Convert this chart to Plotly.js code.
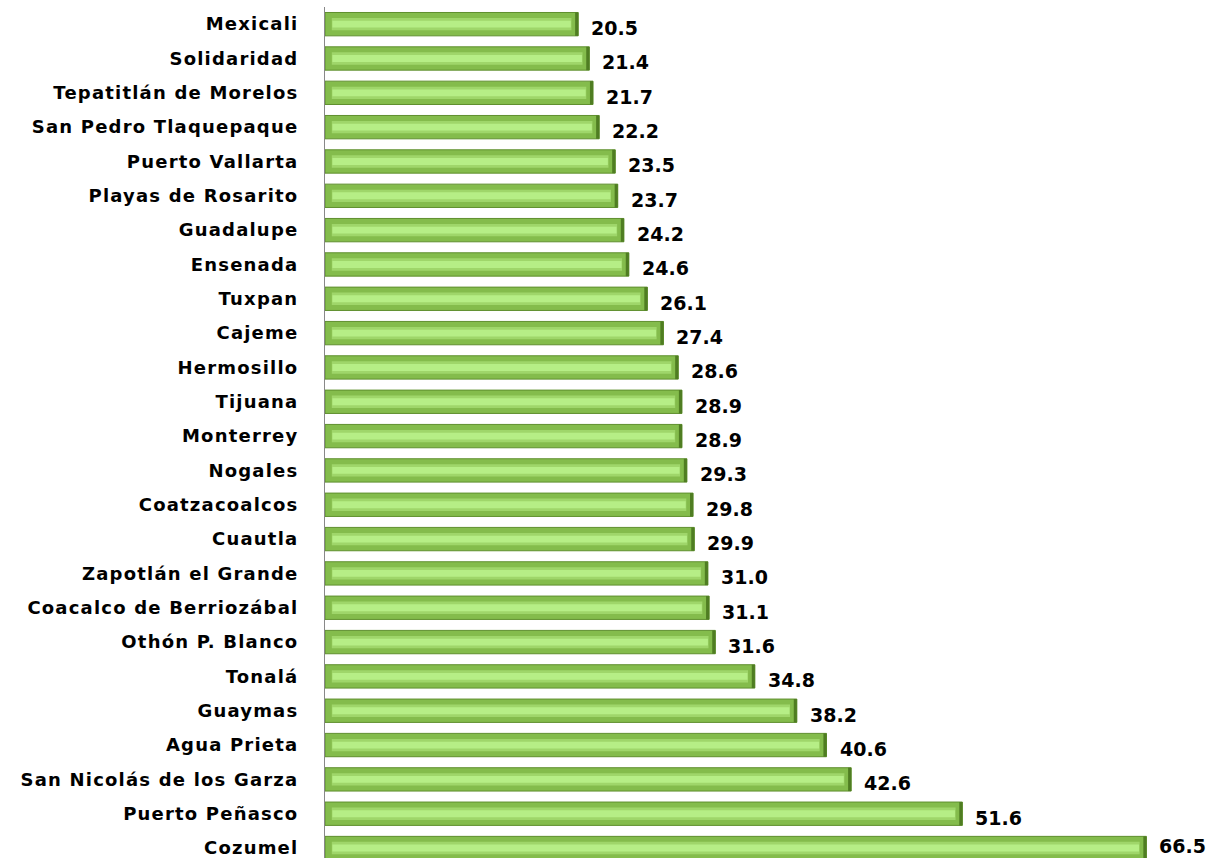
<!DOCTYPE html>
<html><head><meta charset="utf-8">
<script src="https://cdn.plot.ly/plotly-3.0.1.min.js"></script>
<style>html,body{margin:0;padding:0;background:#fff}
.ytick text{letter-spacing:1.2px}</style>
</head><body>
<div id="chart" style="width:1206px;height:858px"></div>
<script>
const municipios = ["Mexicali","Solidaridad","Tepatitlán de Morelos","San Pedro Tlaquepaque","Puerto Vallarta","Playas de Rosarito","Guadalupe","Ensenada","Tuxpan","Cajeme","Hermosillo","Tijuana","Monterrey","Nogales","Coatzacoalcos","Cuautla","Zapotlán el Grande","Coacalco de Berriozábal","Othón P. Blanco","Tonalá","Guaymas","Agua Prieta","San Nicolás de los Garza","Puerto Peñasco","Cozumel"];
const valores = [20.5,21.4,21.7,22.2,23.5,23.7,24.2,24.6,26.1,27.4,28.6,28.9,28.9,29.3,29.8,29.9,31.0,31.1,31.6,34.8,38.2,40.6,42.6,51.6,66.5];

const outer = {type:'bar', orientation:'h', y:municipios, x:valores, width:0.68,
  marker:{color:'#84bc4c', line:{color:'#5f8f2e', width:1}}, hoverinfo:'skip'};
const band = {type:'bar', orientation:'h', y:municipios, x:valores.map(v=>v-1.1), base:0.55, width:0.36,
  marker:{color:'#9fd66a', line:{width:0}}, hoverinfo:'skip'};
const inner = {type:'bar', orientation:'h', y:municipios, x:valores.map(v=>v-1.2), base:0.6, width:0.2,
  marker:{color:'#b6ee86', line:{width:0}}, hoverinfo:'skip'};
const edge = {type:'bar', orientation:'h', y:municipios, x:valores.map(()=>0.25), base:valores.map(v=>v-0.25), width:0.68,
  marker:{color:'#4f7d22', line:{width:0}}, hoverinfo:'skip'};

const last = municipios.length - 1;
const annotations = municipios.map((m,i)=>({x:valores[i], y:m, xref:'x', yref:'y',
  text:valores[i].toFixed(1), showarrow:false, xanchor:'left', xshift:11, yshift:(i===last?2:-4),
  font:{family:'DejaVu Sans, sans-serif', size:19, color:'#000', weight:'bold'}}));

const layout = {width:1206, height:858, margin:{l:325, r:4, t:7, b:0},
  paper_bgcolor:'#fff', plot_bgcolor:'#fff', barmode:'overlay', showlegend:false,
  xaxis:{range:[0,71], visible:false, fixedrange:true},
  yaxis:{type:'category', range:[24.29,-0.5], showline:true, linecolor:'#888', linewidth:1,
    showgrid:false, zeroline:false, ticks:'', ticklabelstandoff:22,
    tickfont:{family:'DejaVu Sans, sans-serif', size:18, color:'#000', weight:'bold'}},
  annotations:annotations};

Plotly.newPlot('chart',[outer,band,inner,edge],layout,{displayModeBar:false,staticPlot:true});
</script>
</body></html>
